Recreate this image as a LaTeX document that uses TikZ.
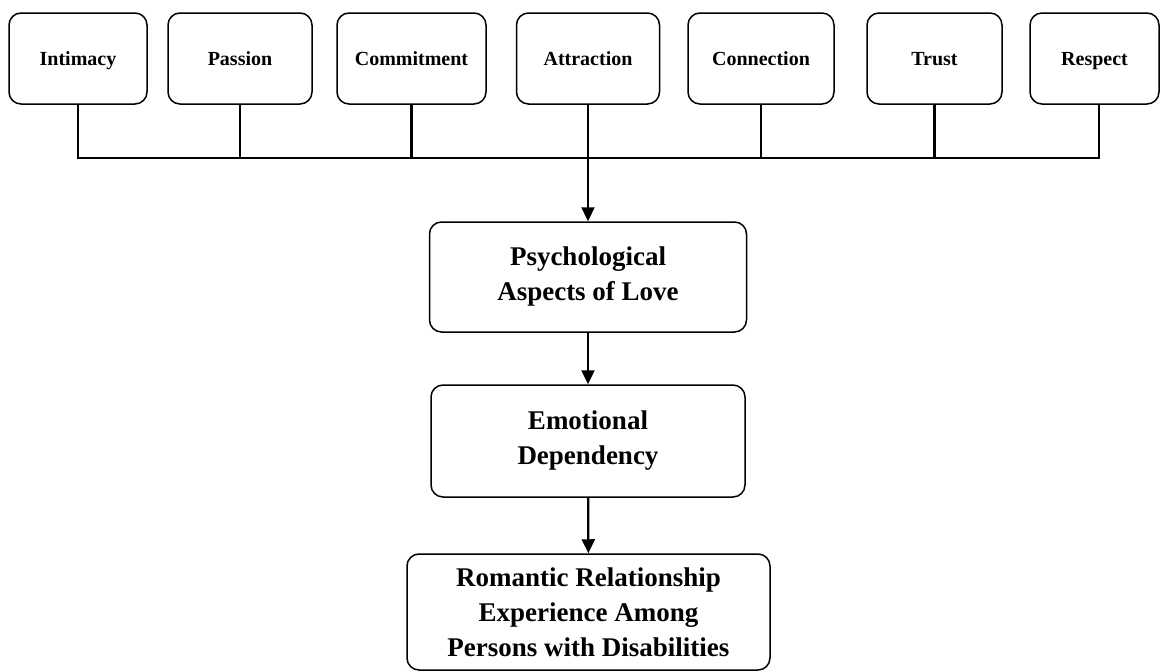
\documentclass[tikz,border=0pt]{standalone}
\usepackage{fontspec}
\setmainfont{Liberation Serif}
\usetikzlibrary{arrows.meta,positioning,calc}

\begin{document}
\begin{tikzpicture}[x=1pt,y=-1pt]
	\tikzstyle{topbox} = [draw = black,rounded corners = 12pt,line width = 1.5pt,minimum height = 91pt,text height = 13.5pt,text depth = 0pt,font = \fontsize{20}{24}\selectfont\bfseries,align = center]
	\tikzstyle{mainbox} = [draw = black,rounded corners = 12pt,line width = 1.5pt,font = \fontsize{27}{35}\selectfont\bfseries,align = center]
	\tikzstyle{line} = [line width = 2.3pt]
	\tikzstyle{arrow} = [line width = 2.3pt,-{Triangle[length=14pt,width=13pt]}]
	\useasboundingbox (0,0) rectangle (1160,672);
	\node(intimacy)[topbox, minimum width = 138pt] at (78,58.5) {Intimacy};
	\node(passion)[topbox, minimum width = 144pt] at (240,58.5) {Passion};
	\node(commitment)[topbox, minimum width = 149pt] at (411.5,58.5) {Commitment};
	\node(attraction)[topbox, minimum width = 143pt] at (588,58.5) {Attraction};
	\node(connection)[topbox, minimum width = 146pt] at (761,58.5) {Connection};
	\node(trust)[topbox, minimum width = 135pt] at (934.5,58.5) {Trust};
	\node(respect)[topbox, minimum width = 129pt] at (1094.5,58.5) {Respect};
	\node(psych)[mainbox, minimum width = 317pt, minimum height = 110pt] at (588,277) {Psychological\\Aspects of Love};
	\node(emotional)[mainbox, minimum width = 314pt, minimum height = 112pt] at (588,441) {Emotional\\Dependency};
	\node(romantic)[mainbox, minimum width = 363pt, minimum height = 116pt] at (588.5,612) {Romantic Relationship\\Experience Among\\Persons with Disabilities};
	\coordinate(bus) at (0,158);
	\draw[line](intimacy.south) -- (intimacy.south |- bus) -- ([xshift=4.5pt]respect.south |- bus) -- ([xshift=4.5pt]respect.south);
	\draw[line](passion.south) -- (passion.south |- bus);
	\draw[line](commitment.south) -- (commitment.south |- bus);
	\draw[line](connection.south) -- (connection.south |- bus);
	\draw[line](trust.south) -- (trust.south |- bus);
	\draw[arrow](attraction.south) -- (psych.north);
	\draw[arrow](psych) -- (emotional);
	\draw[arrow](emotional) -- (romantic);
\end{tikzpicture}
\end{document}
